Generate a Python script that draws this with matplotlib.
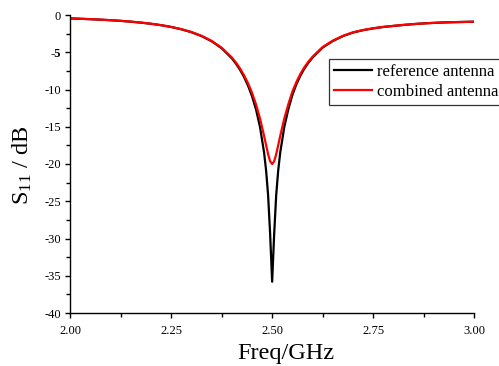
import matplotlib
matplotlib.use("Agg")
import matplotlib.pyplot as plt
from matplotlib.ticker import MultipleLocator, FixedLocator

freq = [2.000, 2.025, 2.050, 2.075, 2.100, 2.125, 2.150, 2.175, 2.200, 2.225,
        2.250, 2.275, 2.300, 2.325, 2.350, 2.375, 2.400, 2.410, 2.420, 2.430,
        2.440, 2.450, 2.460, 2.470, 2.480, 2.485, 2.490, 2.495, 2.500, 2.505,
        2.510, 2.515, 2.520, 2.530, 2.540, 2.550, 2.560, 2.570, 2.580, 2.590,
        2.600, 2.625, 2.650, 2.675, 2.700, 2.725, 2.750, 2.775, 2.800, 2.825,
        2.850, 2.875, 2.900, 2.925, 2.950, 2.975, 3.000]

s11_reference = [-0.46, -0.51, -0.565, -0.63, -0.70, -0.79, -0.90, -1.03, -1.18, -1.37,
                 -1.61, -1.92, -2.31, -2.83, -3.52, -4.47, -5.81, -6.51, -7.32, -8.28,
                 -9.45, -10.87, -12.67, -15.05, -18.46, -20.87, -24.20, -29.40, -35.80, -29.40,
                 -24.20, -20.87, -18.46, -15.05, -12.67, -10.75, -9.30, -8.13, -7.18, -6.39,
                 -5.72, -4.37, -3.50, -2.84, -2.36, -2.04, -1.80, -1.61, -1.47, -1.34,
                 -1.22, -1.13, -1.06, -1.00, -0.96, -0.93, -0.90]

s11_combined = [-0.46, -0.505, -0.56, -0.62, -0.70, -0.78, -0.89, -1.01, -1.17, -1.36,
                -1.60, -1.90, -2.28, -2.79, -3.47, -4.40, -5.69, -6.36, -7.14, -8.05,
                -9.13, -10.42, -11.99, -13.91, -16.22, -17.48, -18.70, -19.63, -20.00, -19.63,
                -18.70, -17.48, -16.22, -13.91, -11.99, -10.30, -9.00, -7.90, -7.00, -6.25,
                -5.60, -4.30, -3.45, -2.80, -2.33, -2.02, -1.78, -1.60, -1.46, -1.33,
                -1.22, -1.13, -1.06, -1.00, -0.96, -0.93, -0.90]

labels = ["reference antenna", "combined antenna"]
xticks = [2.00, 2.25, 2.50, 2.75, 3.00]
xticklabels = ["2.00", "2.25", "2.50", "2.75", "3.00"]
yticks = [0, -5, -10, -15, -20, -25, -30, -35, -40]
yticklabels = ["0", "-5", "-10", "-15", "-20", "-25", "-30", "-35", "-40"]

plt.rcParams['font.family'] = ['Liberation Serif', 'DejaVu Serif']
plt.rcParams['mathtext.fontset'] = 'custom'
plt.rcParams['mathtext.rm'] = 'Liberation Serif'
plt.rcParams['mathtext.it'] = 'Liberation Serif:italic'

fig = plt.figure(figsize=(4.99, 3.66), dpi=100)
ax = fig.add_axes([70.3/499, 1-313/366, (474-70.3)/499, (313-15)/366])

ax.plot(freq, s11_reference, color='black', lw=1.6, label=labels[0])
ax.plot(freq, s11_combined, color='#ff0000', lw=1.6, label=labels[1])

ax.set_xlim(2.0, 3.0)
ax.set_ylim(-40, 0)
ax.spines['top'].set_visible(False)
ax.spines['right'].set_visible(False)
for s in ('left', 'bottom'):
    ax.spines[s].set_linewidth(1.0)

ax.xaxis.set_major_locator(FixedLocator(xticks))
ax.set_xticklabels(xticklabels)
ax.xaxis.set_minor_locator(MultipleLocator(0.125))
ax.yaxis.set_major_locator(FixedLocator(yticks))
ax.set_yticklabels(yticklabels)
ax.yaxis.set_minor_locator(MultipleLocator(2.5))
ax.tick_params(which='major', direction='out', length=3.6, width=1.0, labelsize=9, pad=3)
ax.tick_params(which='minor', direction='out', length=2.6, width=1.0)
ax.tick_params(axis='x', which='major', pad=5)
for t in ax.get_yticklabels():
    if t.get_text() == "-5":
        t.set_fontweight('bold')

fig.text(22/499, 1-165/366, r"S$_{11}$ / dB", rotation=90, ha='center', va='center', fontsize=17.5)
fig.text(286/499, 1-354/366, "Freq/GHz", ha='center', va='center', fontsize=17.5)

leg = ax.legend(loc='upper left', bbox_to_anchor=(329/499, 1-59/366), bbox_transform=fig.transFigure,
                fontsize=12, frameon=True, fancybox=False, edgecolor='black',
                borderpad=0.28, labelspacing=0.25, handlelength=2.3, handletextpad=0.3,
                borderaxespad=0)
leg.get_frame().set_linewidth(0.9)

fig.savefig("out.png", dpi=100)
